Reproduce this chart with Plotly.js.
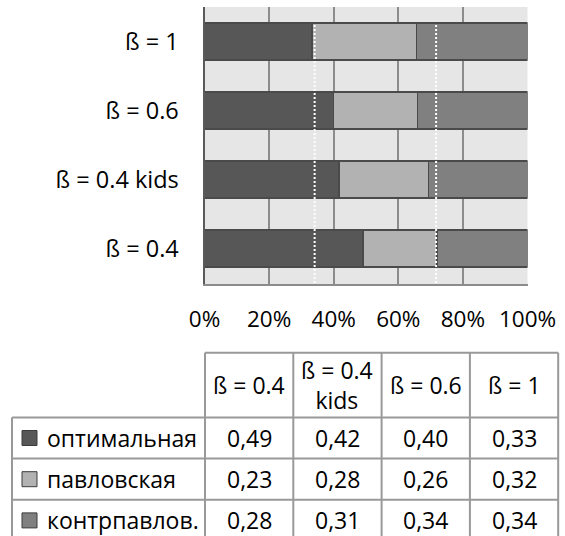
<!DOCTYPE html>
<html>
<head>
<meta charset="utf-8">
<script src="https://cdn.plot.ly/plotly-3.0.1.min.js"></script>
<style>
  html, body { margin: 0; padding: 0; background: #ffffff; }
  #chart { width: 565px; height: 536px; }
</style>
</head>
<body>
<div id="chart"></div>
<script>
// Scenario labels (bottom to top on the chart, left to right in the table)
const categories = ['ß = 0.4', 'ß = 0.4 kids', 'ß = 0.6', 'ß = 1'];

// Strategy shares per scenario
const seriesNames = ['оптимальная', 'павловская', 'контрпавлов.'];
const optimal = [0.49, 0.42, 0.40, 0.33];
const pavlov = [0.23, 0.28, 0.26, 0.32];
const counterPavlov = [0.28, 0.31, 0.34, 0.34];
const seriesValues = [optimal, pavlov, counterPavlov];
const seriesColors = ['#575757', '#b2b2b2', '#808080'];

// Percent axis ticks
const xTickValues = [0, 20, 40, 60, 80, 100];
const xTickLabels = ['0%', '20%', '40%', '60%', '80%', '100%'];

// Dotted reference markers (percent of the bar)
const referenceLines = [34.1, 71.7];

const W = 565, H = 536;
const px = x => x / W;          // pixel column -> paper x
const py = y => 1 - y / H;      // pixel row    -> paper y

const barGap = 0.47;
const fontFamily = '"Open Sans", "DejaVu Sans", sans-serif';

// Stacked, normalised horizontal bars
const traces = seriesNames.map((name, i) => ({
  type: 'bar',
  orientation: 'h',
  name: name,
  x: seriesValues[i],
  y: categories,
  marker: { color: seriesColors[i], line: { color: '#4a4a4a', width: 1.5 } },
  hoverinfo: 'skip',
  showlegend: false
}));

const shapes = [];
const annotations = [];

// White dotted reference lines over the bars
referenceLines.forEach(v => {
  shapes.push({
    type: 'line', xref: 'x', yref: 'y',
    x0: v, x1: v, y0: -0.5, y1: categories.length - 1 + (1 - barGap) / 2,
    line: { color: '#ffffff', width: 2, dash: '2px,2px' },
    layer: 'above'
  });
});

// ---- Data table under the chart ----
const tableLeft = 12, labelColWidth = 193, valueColWidth = 88.3;
const tableTop = 352.7, headerHeight = 64.7, rowHeight = 41.2;
const gridColor = '#999999';

const colEdges = [tableLeft, tableLeft + labelColWidth];
categories.forEach(() => colEdges.push(colEdges[colEdges.length - 1] + valueColWidth));
const rowEdges = [tableTop, tableTop + headerHeight];
seriesNames.forEach(() => rowEdges.push(rowEdges[rowEdges.length - 1] + rowHeight));
const tableRight = colEdges[colEdges.length - 1];
const tableBottom = rowEdges[rowEdges.length - 1];

function hLine(y, x0, x1) {
  shapes.push({ type: 'line', xref: 'paper', yref: 'paper',
    x0: px(x0), x1: px(x1), y0: py(y), y1: py(y),
    line: { color: gridColor, width: 2 } });
}
function vLine(x, y0, y1) {
  shapes.push({ type: 'line', xref: 'paper', yref: 'paper',
    x0: px(x), x1: px(x), y0: py(y0), y1: py(y1),
    line: { color: gridColor, width: 2 } });
}

// header top spans only the value columns; body rows span the full width
hLine(rowEdges[0], colEdges[1], tableRight);
for (let r = 1; r < rowEdges.length; r++) hLine(rowEdges[r], colEdges[0], tableRight);
vLine(colEdges[0], rowEdges[1], tableBottom);
for (let c = 1; c < colEdges.length; c++) vLine(colEdges[c], rowEdges[0], tableBottom);

const tableFont = { family: fontFamily, size: 23, color: '#000000' };

// header cells
categories.forEach((cat, j) => {
  annotations.push({
    xref: 'paper', yref: 'paper', showarrow: false,
    x: px((colEdges[j + 1] + colEdges[j + 2]) / 2),
    y: py((rowEdges[0] + rowEdges[1]) / 2),
    xanchor: 'center', yanchor: 'middle',
    text: cat.replace(' kids', '<br>kids'),
    font: tableFont
  });
});

// body rows: legend key, series name, values
seriesNames.forEach((name, i) => {
  const yMid = (rowEdges[i + 1] + rowEdges[i + 2]) / 2;
  shapes.push({ type: 'rect', xref: 'paper', yref: 'paper',
    x0: px(22), x1: px(37), y0: py(yMid + 7.5), y1: py(yMid - 7.5),
    fillcolor: seriesColors[i], line: { color: '#3c3c3c', width: 1 } });
  annotations.push({
    xref: 'paper', yref: 'paper', showarrow: false,
    x: px(45), y: py(yMid), xanchor: 'left', yanchor: 'middle',
    text: name, font: tableFont
  });
  seriesValues[i].forEach((v, j) => {
    annotations.push({
      xref: 'paper', yref: 'paper', showarrow: false,
      x: px((colEdges[j + 1] + colEdges[j + 2]) / 2), y: py(yMid),
      xanchor: 'center', yanchor: 'middle',
      text: v.toFixed(2).replace('.', ','),
      font: tableFont
    });
  });
});

const layout = {
  width: W, height: H,
  margin: { l: 0, r: 0, t: 0, b: 0 },
  paper_bgcolor: '#ffffff',
  plot_bgcolor: '#e6e6e6',
  font: { family: fontFamily, color: '#000000' },
  barmode: 'stack',
  barnorm: 'percent',
  bargap: barGap,
  showlegend: false,
  xaxis: {
    domain: [px(204.5), px(527.5)],
    range: [0, 100],
    tickvals: xTickValues, ticktext: xTickLabels,
    showgrid: true, gridcolor: '#8c8c8c', gridwidth: 2,
    zeroline: false,
    showline: true, linecolor: '#8c8c8c', linewidth: 2,
    ticks: '', ticklabelstandoff: 14,
    tickfont: { size: 22.5, color: '#000000' },
    automargin: false, fixedrange: true
  },
  yaxis: {
    domain: [py(284), py(7)],
    type: 'category', categoryorder: 'array', categoryarray: categories,
    showgrid: false, zeroline: false,
    showline: true, linecolor: '#5a5a5a', linewidth: 2,
    ticks: '', ticklabelstandoff: 19,
    tickfont: { size: 23.5, color: '#000000' },
    automargin: false, fixedrange: true
  },
  shapes: shapes,
  annotations: annotations
};

Plotly.newPlot('chart', traces, layout, { displayModeBar: false, staticPlot: true });
</script>
</body>
</html>
